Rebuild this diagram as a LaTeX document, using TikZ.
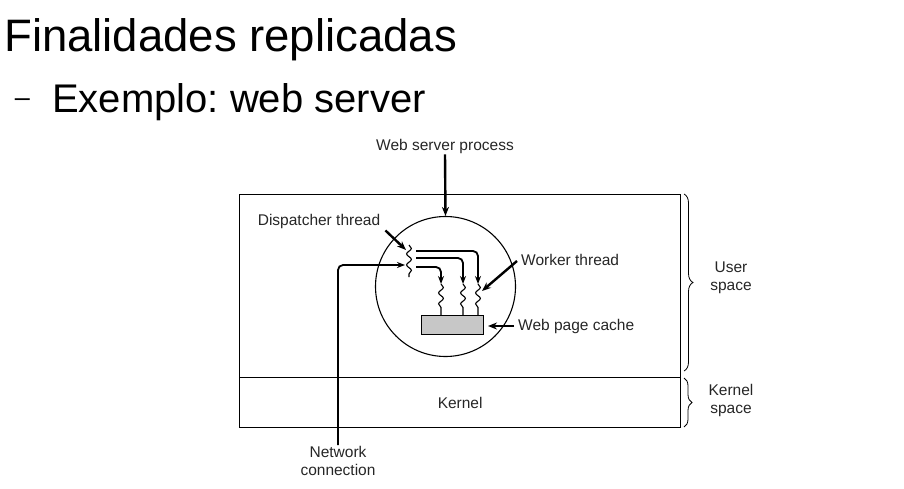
\documentclass[tikz,border=0pt]{standalone}
\usepackage{fontspec}
\setmainfont{Liberation Sans}
\usetikzlibrary{arrows.meta,decorations.pathmorphing,decorations.pathreplacing}
\frenchspacing

\begin{document}
\begin{tikzpicture}[x=1pt,y=-1pt,
                lbl/.style={font=\fontsize{15.5}{18}\selectfont,align=center,inner sep=1pt,text=black!85},
                fatarrow/.style={line width=2.4pt,-{Stealth[length=9pt,width=7pt]}},
                flow/.style={line width=1.8pt,rounded corners=5pt,-{Stealth[length=8pt,width=6pt]}},
                wavy/.style={line width=1.1pt,decorate,decoration={snake,segment length=11pt,amplitude=2.4pt}},
                spacebrace/.style={line width=0.8pt,decorate,decoration={brace,amplitude=9pt}}]
                \useasboundingbox (0,0) rectangle (904,489);
                % slide heading
                \node[anchor=base west,inner sep=0,font=\fontsize{45.5}{50}\selectfont] (title) at (4,52) {Finalidades replicadas};
                \node[anchor=base west,inner sep=0,font=\fontsize{40}{44}\selectfont] (sub) at (52,113) {Exemplo: web server};
                \node[inner sep=0,font=\fontsize{27}{30}\selectfont] (dash) at (22.5,103) {–};
                % user and kernel space
                \node[draw,line width=1.3pt,anchor=north west,minimum width=441pt,minimum height=183pt,inner sep=0] (user) at (239,194) {};
                \node[draw,line width=1.3pt,anchor=north west,minimum width=441pt,minimum height=50pt,inner sep=0,lbl] (kernel) at (239,377) {Kernel};
                % process
                \node[draw,circle,line width=1.1pt,minimum size=140pt,inner sep=0] (srv) at (445.5,286.5) {};
                \node[lbl] (proc) at (445,146) {Web server process};
                \draw[fatarrow] (proc.south) -- (srv.north);
                \node[draw,line width=1pt,fill=black!22,anchor=north west,minimum width=62pt,minimum height=19pt,inner sep=0] (cache) at (421,315) {};
                % threads
                \coordinate (dtop) at (409,245);
                \coordinate (dbot) at (409,277);
                \draw[wavy] (dtop) -- (dbot);
                \coordinate (d1) at (416,251);
                \coordinate (d2) at (416,258);
                \coordinate (d3) at (416,267);
                \coordinate (w1) at (478,284);
                \coordinate (w2) at (463,284);
                \coordinate (w3) at (441,284);
                \draw[flow] (d1) -| (w1);
                \draw[flow] (d2) -| (w2);
                \draw[flow] (d3) -| (w3);
                \draw[wavy,decoration={post length=4pt}] (w1) -- (w1 |- cache.north);
                \draw[wavy,decoration={post length=4pt}] (w2) -- (w2 |- cache.north);
                \draw[wavy,decoration={post length=4pt}] (w3) -- (w3 |- cache.north);
                % labels
                \node[lbl] (disp) at (319,221) {Dispatcher thread};
                \coordinate (dtip) at (406,250);
                \draw[fatarrow] ([xshift=4pt,yshift=-1pt]disp.south east) -- (dtip);
                \node[lbl,anchor=west] (worker) at (520,260) {Worker thread};
                \coordinate (wtip) at (482,291);
                \draw[fatarrow] ([xshift=-3pt,yshift=-1pt]worker.west) -- (wtip);
                \node[lbl,anchor=west] (cachelbl) at (517,326) {Web page cache};
                \draw[fatarrow,shorten >=4pt] ([xshift=-3pt]cachelbl.west) -- (cachelbl.west -| cache.east);
                % network
                \node[lbl,anchor=north] (net) at (338,445) {Network\\connection};
                \coordinate (nettip) at (405,265);
                \draw[flow] (net.north) |- (nettip);
                % braces
                \coordinate (ua) at (684,194);
                \coordinate (ub) at (684,371);
                \coordinate (ka) at (684,378);
                \coordinate (kb) at (684,427);
                \draw[spacebrace] (ua) -- (ub);
                \draw[spacebrace,decoration={amplitude=8pt}] (ka) -- (kb);
                \node[lbl] (userlbl) at (731,278) {User\\space};
                \node[lbl] (kernlbl) at (731,400) {Kernel\\space};
\end{tikzpicture}
\end{document}
